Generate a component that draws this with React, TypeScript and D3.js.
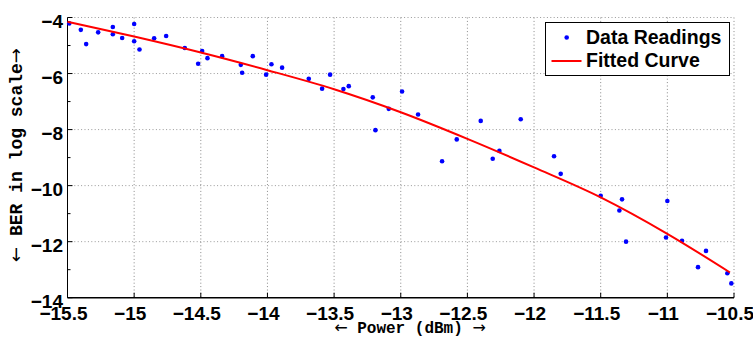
import React from "react";
import * as d3 from "d3";

// readings picked off the plot: [power dBm, log BER]
const powerReadings = [
  -15.487, -15.4, -15.36, -15.27, -15.16, -15.16, -15.09, -15.0, -15.0, -14.96,
  -14.85, -14.76, -14.62, -14.52, -14.49, -14.45, -14.34, -14.2, -14.19, -14.11,
  -14.01, -13.97, -13.89, -13.69, -13.59, -13.53, -13.43, -13.39, -13.21, -13.19,
  -13.09, -12.99, -12.87, -12.69, -12.58, -12.4, -12.31, -12.26, -12.1, -11.85,
  -11.8, -11.5, -11.34, -11.36, -11.31, -11.0, -11.01, -10.89, -10.71, -10.77,
  -10.55, -10.52,
];
const berReadings = [
  -4.21, -4.44, -4.95, -4.53, -4.34, -4.6, -4.73, -4.23, -4.85, -5.14,
  -4.74, -4.66, -5.09, -5.65, -5.2, -5.45, -5.38, -5.69, -5.97, -5.38,
  -6.04, -5.67, -5.79, -6.19, -6.54, -6.04, -6.55, -6.45, -6.85, -8.02,
  -7.26, -6.64, -7.46, -9.13, -8.35, -7.69, -9.04, -8.76, -7.63, -8.95,
  -9.58, -10.36, -10.49, -10.89, -12.0, -10.55, -11.85, -11.97, -12.33, -12.91,
  -13.13, -13.49,
];

// fitted curve
const curvePower = [-15.5, -15.0, -14.5, -14.0, -13.5, -13.0, -12.5, -12.0, -11.5, -11.0, -10.53];
const curveBer = [-4.15, -4.68, -5.25, -5.88, -6.56, -7.38, -8.33, -9.35, -10.42, -11.72, -13.1];

const xTicks = [-15.5, -15, -14.5, -14, -13.5, -13, -12.5, -12, -11.5, -11, -10.5];
const yTicks = [-4, -6, -8, -10, -12, -14];
const yMinorTicks = [-5, -7, -9, -11, -13];

const width = 753;
const height = 338;
const left = 67.5;
const right = 734;
const top = 17.5;
const bottom = 297.7;

const fmt = (v: number) => `${v}`.replace("-", "\u2212");

export default function App() {
  const x = d3.scaleLinear().domain([-15.5, -10.5]).range([left, right]);
  const y = d3.scaleLinear().domain([-14, -4]).range([bottom, top]);

  const line = d3
    .line<number>()
    .x((d, i) => x(curvePower[i]))
    .y((d) => y(d))
    .curve(d3.curveMonotoneX);

  const tickFont = {
    fontFamily: "'Liberation Sans', Arial, sans-serif",
    fontWeight: "bold" as const,
    fontSize: 19,
  };
  const monoFont = {
    fontFamily: "'Liberation Mono', 'DejaVu Sans Mono', monospace",
    fontWeight: "bold" as const,
  };
  const arrow = { fontFamily: "'DejaVu Sans', sans-serif", fontWeight: "normal" as const };

  return (
    <svg
      width={width}
      height={height}
      style={{ position: "absolute", left: 0, top: 0, background: "#fff" }}
    >
      {/* grid */}
      {xTicks.slice(1).map((t) => (
        <line
          key={"gx" + t}
          x1={x(t)}
          x2={x(t)}
          y1={top}
          y2={bottom}
          stroke="#888"
          strokeWidth={1}
          strokeDasharray="1,2.4"
        />
      ))}
      {yTicks.slice(0, -1).map((t) => (
        <line
          key={"gy" + t}
          x1={left}
          x2={right}
          y1={y(t)}
          y2={y(t)}
          stroke="#999"
          strokeWidth={1}
          strokeDasharray="1,2.4"
        />
      ))}

      {/* axes */}
      <line x1={left} x2={left} y1={top} y2={bottom} stroke="#000" strokeWidth={1} />
      <line x1={left} x2={right} y1={bottom} y2={bottom} stroke="#000" strokeWidth={1.4} />
      {xTicks.map((t) => (
        <line key={"tx" + t} x1={x(t)} x2={x(t)} y1={bottom} y2={bottom - 5} stroke="#000" />
      ))}
      {yTicks.map((t) => (
        <line key={"ty" + t} x1={left} x2={left + 5} y1={y(t)} y2={y(t)} stroke="#000" />
      ))}
      {yMinorTicks.map((t) => (
        <line key={"tm" + t} x1={left} x2={left + 3} y1={y(t)} y2={y(t)} stroke="#000" />
      ))}

      {/* tick labels */}
      {xTicks.map((t) => (
        <text key={"lx" + t} x={x(t) - 4} y={319.5} textAnchor="middle" style={tickFont}>
          {fmt(t)}
        </text>
      ))}
      {yTicks.map((t) => (
        <text key={"ly" + t} x={63} y={y(t) + 10} textAnchor="end" style={tickFont}>
          {fmt(t)}
        </text>
      ))}

      {/* axis titles */}
      <text x={410} y={333} textAnchor="middle" style={{ ...monoFont, fontSize: 16 }}>
        <tspan style={arrow}>{"\u2190"}</tspan>
        {" Power (dBm) "}
        <tspan style={arrow}>{"\u2192"}</tspan>
      </text>
      <text
        transform="translate(22,155) rotate(-90)"
        textAnchor="middle"
        style={{ ...monoFont, fontSize: 18 }}
      >
        <tspan style={arrow}>{"\u2190"}</tspan>
        {" BER in log scale"}
        <tspan style={arrow}>{"\u2192"}</tspan>
      </text>

      {/* data */}
      {powerReadings.map((p, i) => (
        <circle key={"p" + i} cx={x(p)} cy={y(berReadings[i])} r={2.3} fill="#0000ff" />
      ))}
      <path d={line(curveBer) ?? ""} fill="none" stroke="#ff0000" strokeWidth={2} />

      {/* legend */}
      <rect x={545.5} y={22.5} width={184} height={53} fill="#fff" stroke="#000" strokeWidth={1} />
      <circle cx={566.7} cy={37.5} r={2.3} fill="#0000ff" />
      <text x={586} y={44.3} style={{ ...tickFont, fontSize: 19.5 }}>
        Data Readings
      </text>
      <line x1={551.5} x2={581.5} y1={61} y2={61} stroke="#ff0000" strokeWidth={2} />
      <text x={586} y={67.3} style={{ ...tickFont, fontSize: 19.5 }}>
        Fitted Curve
      </text>
    </svg>
  );
}
